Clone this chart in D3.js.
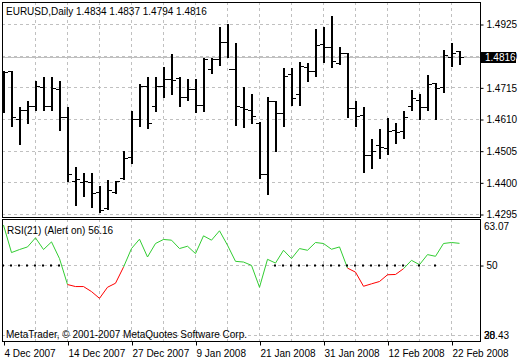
<!DOCTYPE html>
<html>
<head>
<meta charset="utf-8">
<script src="https://cdn.jsdelivr.net/npm/d3@7"></script>
<style>
  body { margin: 0; background: #fff; }
  svg text { font-family: "Liberation Sans", Arial, sans-serif; font-size: 10px; fill: #000; }
</style>
</head>
<body>
<script>
// trading days shown on the chart
const days = [
  "2007-12-04","2007-12-05","2007-12-06","2007-12-07","2007-12-10","2007-12-11","2007-12-12","2007-12-13",
  "2007-12-14","2007-12-17","2007-12-18","2007-12-19","2007-12-20","2007-12-21","2007-12-24","2007-12-26",
  "2007-12-27","2007-12-28","2007-12-31","2008-01-02","2008-01-03","2008-01-04","2008-01-07","2008-01-08",
  "2008-01-09","2008-01-10","2008-01-11","2008-01-14","2008-01-15","2008-01-16","2008-01-17","2008-01-18",
  "2008-01-21","2008-01-22","2008-01-23","2008-01-24","2008-01-25","2008-01-28","2008-01-29","2008-01-30",
  "2008-01-31","2008-02-01","2008-02-04","2008-02-05","2008-02-06","2008-02-07","2008-02-08","2008-02-11",
  "2008-02-12","2008-02-13","2008-02-14","2008-02-15","2008-02-18","2008-02-19","2008-02-20","2008-02-21",
  "2008-02-22","2008-02-25"
]
const opens = [
  1.4672,1.4769,1.4609,1.4639,1.4653,1.4716,1.4653,1.4709,1.4616,1.4403,
  1.4400,1.4400,1.4367,1.4314,1.4367,1.4413,1.4483,1.4609,1.4719,1.4653,
  1.4719,1.4742,1.4746,1.4682,1.4709,1.4656,1.4775,1.4809,1.4865,1.4775,
  1.4649,1.4639,1.4596,1.4427,1.4669,1.4629,1.4759,1.4692,1.4782,1.4769,
  1.4859,1.4849,1.4795,1.4829,1.4646,1.4623,1.4490,1.4523,1.4513,1.4573,
  1.4570,1.4653,1.4672,1.4649,1.4729,1.4716,1.4815,1.4834
]
const highs = [
  1.4769,1.4770,1.4649,1.4669,1.4736,1.4749,1.4749,1.4736,1.4649,1.4450,
  1.4430,1.4430,1.4387,1.4407,1.4403,1.4503,1.4636,1.4726,1.4749,1.4749,
  1.4782,1.4825,1.4749,1.4742,1.4742,1.4812,1.4812,1.4915,1.4925,1.4862,
  1.4716,1.4692,1.4599,1.4682,1.4670,1.4779,1.4779,1.4799,1.4795,1.4908,
  1.4915,1.4952,1.4849,1.4830,1.4669,1.4649,1.4543,1.4576,1.4613,1.4596,
  1.4636,1.4706,1.4692,1.4756,1.4730,1.4839,1.4862,1.4837
]
const lows = [
  1.4633,1.4586,1.4526,1.4596,1.4639,1.4639,1.4639,1.4573,1.4403,1.4324,
  1.4354,1.4317,1.4300,1.4310,1.4364,1.4410,1.4463,1.4586,1.4580,1.4636,
  1.4682,1.4692,1.4653,1.4672,1.4633,1.4636,1.4762,1.4789,1.4815,1.4590,
  1.4583,1.4596,1.4413,1.4360,1.4503,1.4586,1.4656,1.4656,1.4736,1.4752,
  1.4799,1.4782,1.4792,1.4616,1.4586,1.4433,1.4447,1.4480,1.4493,1.4530,
  1.4546,1.4639,1.4609,1.4639,1.4609,1.4699,1.4785,1.4794
]
const closes = [
  1.4766,1.4616,1.4639,1.4653,1.4719,1.4653,1.4712,1.4616,1.4427,1.4410,
  1.4403,1.4364,1.4307,1.4374,1.4403,1.4480,1.4609,1.4719,1.4596,1.4719,
  1.4742,1.4739,1.4682,1.4709,1.4656,1.4809,1.4809,1.4865,1.4775,1.4653,
  1.4643,1.4619,1.4427,1.4669,1.4629,1.4752,1.4679,1.4785,1.4769,1.4855,
  1.4849,1.4802,1.4829,1.4646,1.4619,1.4490,1.4503,1.4516,1.4570,1.4566,
  1.4616,1.4679,1.4649,1.4726,1.4712,1.4822,1.4829,1.4816
]
const rsi = [
  61.35,53.54,54.40,55.14,57.72,54.40,56.57,51.82,44.46,43.89,
  43.89,42.46,40.54,43.69,44.83,49.41,54.68,57.34,52.28,56.11,
  57.26,57.06,54.68,55.34,53.25,58.29,57.06,59.72,55.63,51.05,
  50.85,49.90,43.69,51.62,50.56,54.19,51.82,54.68,54.19,56.40,
  56.11,54.48,55.14,49.13,47.98,43.97,44.66,45.32,47.24,47.32,
  48.96,51.33,50.10,52.96,52.48,56.11,56.40,56.16
]
// bars where the indicator draws its red buffer
const rsiDown = [8,9,10,11,12,13,14,15,43,44,45,46,47,48,49,50]
// bars with an alert dot on the 50 level
const alertBars = [0,1,2,3,4,5,6,7,34,35,36,37,38,39,40,41,42,43,44,45,46,47,48,49,50,52,54]

const priceTicks = [1.4925,1.4820,1.4715,1.4610,1.4505,1.4400,1.4295]
const bid = 1.4816
const rsiLevels = [50, 30]
const rsiMin = 28.43, rsiMax = 63.07
const header = "EURUSD,Daily  1.4834 1.4837 1.4794 1.4816"

const W = 520, H = 360
const left = 2, right = 480
const mainTop = 2, mainBottom = 217
const subTop = 219, subBottom = 341

const parse = d3.timeParse("%Y-%m-%d")
const fmt = d3.timeFormat("%-d %b %Y")

const svg = d3.select('body').append('svg')
    .attr('width', W)
    .attr('height', H)
    .style('display', 'block');

svg.append('rect').attr('width', W).attr('height', H).attr('fill', '#fff');

const x = d3.scalePoint().domain(days).range([3.5, 459.5]);
const y = d3.scaleLinear().domain([1.4295, 1.4925]).range([214, 24]);
const yr = d3.scaleLinear().domain([rsiMin, rsiMax]).range([subBottom, subTop]);

const gridDays = days.filter((d, i) => i > 0 && i % 4 == 0);
const labelDays = days.filter((d, i) => i % 8 == 0);

// vertical grid in both windows
[[mainTop, mainBottom], [subTop, subBottom]].forEach(([t, b]) => {
    svg.append('g').selectAll('line')
        .data(gridDays)
        .enter().append('line')
        .attr('x1', d => Math.floor(x(d)) + 0.5)
        .attr('x2', d => Math.floor(x(d)) + 0.5)
        .attr('y1', t).attr('y2', b)
        .attr('stroke', '#c0c0c0')
        .attr('stroke-dasharray', '3,3');
});

// horizontal grid, main window
svg.append('g').selectAll('line')
    .data(priceTicks)
    .enter().append('line')
    .attr('x1', left).attr('x2', right)
    .attr('y1', d => Math.round(y(d)) + 0.5)
    .attr('y2', d => Math.round(y(d)) + 0.5)
    .attr('stroke', '#c0c0c0')
    .attr('stroke-dasharray', '3,3');

// bid line
svg.append('line')
    .attr('x1', left).attr('x2', right)
    .attr('y1', Math.round(y(bid)) + 0.5).attr('y2', Math.round(y(bid)) + 0.5)
    .attr('stroke', '#c0c0c0');

// levels, indicator window
svg.append('g').selectAll('line')
    .data(rsiLevels)
    .enter().append('line')
    .attr('x1', left).attr('x2', right)
    .attr('y1', d => Math.round(yr(d)) + 0.5)
    .attr('y2', d => Math.round(yr(d)) + 0.5)
    .attr('stroke', '#c0c0c0')
    .attr('stroke-dasharray', '3,3');

// OHLC bars
const bars = svg.append('g').attr('clip-path', 'url(#clipMain)');
svg.append('clipPath').attr('id', 'clipMain')
    .append('rect').attr('x', left).attr('y', mainTop).attr('width', right - left).attr('height', mainBottom - mainTop);

const ohlc = days.map((d, i) => ({d, o: opens[i], h: highs[i], l: lows[i], c: closes[i]}));
let g = bars.selectAll('g.bar').data(ohlc).enter().append('g').attr('class', 'bar');
g.append('rect')
    .attr('x', d => Math.floor(x(d.d)))
    .attr('y', d => Math.round(y(d.h)))
    .attr('width', 2)
    .attr('height', d => Math.max(1, Math.round(y(d.l)) - Math.round(y(d.h)) + 1))
    .attr('fill', '#000');
g.append('rect')
    .attr('x', d => Math.floor(x(d.d)) - 3)
    .attr('y', d => Math.round(y(d.o)))
    .attr('width', 3).attr('height', 1)
    .attr('fill', '#000');
g.append('rect')
    .attr('x', d => Math.floor(x(d.d)) + 2)
    .attr('y', d => Math.round(y(d.c)))
    .attr('width', 3).attr('height', 1)
    .attr('fill', '#000');

// RSI line, one segment per bar
const segs = d3.range(days.length - 1).map(i => ({
    a: days[i], b: days[i + 1], va: rsi[i], vb: rsi[i + 1],
    down: rsiDown.includes(i) && rsiDown.includes(i + 1)
}));
svg.append('g').selectAll('line')
    .data(segs)
    .enter().append('line')
    .attr('x1', d => x(d.a)).attr('x2', d => x(d.b))
    .attr('y1', d => yr(d.va)).attr('y2', d => yr(d.vb))
    .attr('stroke', d => d.down ? '#ff0000' : '#32cd32')
    .attr('stroke-width', 1);

// alert dots
svg.append('g').selectAll('rect')
    .data(alertBars)
    .enter().append('rect')
    .attr('x', i => Math.floor(x(days[i])) - 1)
    .attr('y', Math.round(yr(50)) - 0.5)
    .attr('width', 2).attr('height', 2)
    .attr('fill', '#000');

// frames
svg.append('rect')
    .attr('x', left + 0.5).attr('y', mainTop + 0.5)
    .attr('width', right - left).attr('height', mainBottom - mainTop)
    .attr('fill', 'none').attr('stroke', '#000');
svg.append('rect')
    .attr('x', left + 0.5).attr('y', subTop + 0.5)
    .attr('width', right - left).attr('height', subBottom - subTop)
    .attr('fill', 'none').attr('stroke', '#000');

// price axis
const yAxis = svg.append('g')
    .attr('transform', `translate(${right + 0.5},0.5)`)
    .call(d3.axisRight(y).tickValues(priceTicks).tickSize(3).tickPadding(3).tickFormat(d3.format('.4f')));
yAxis.select('.domain').remove();
yAxis.selectAll('text').style('font-size', '10px').attr('font-family', null);

// bid label
svg.append('rect')
    .attr('x', right + 1).attr('y', Math.round(y(bid)) - 5)
    .attr('width', 35).attr('height', 11)
    .attr('fill', '#000');
svg.append('text')
    .attr('x', right + 5).attr('y', Math.round(y(bid)) + 4)
    .style('fill', '#fff')
    .text(d3.format('.4f')(bid));

// rsi axis
const rAxis = svg.append('g')
    .attr('transform', `translate(${right + 0.5},0.5)`)
    .call(d3.axisRight(yr).tickValues([50]).tickSize(3).tickPadding(3).tickFormat(d3.format('d')));
rAxis.select('.domain').remove();
rAxis.selectAll('text').style('font-size', '10px').attr('font-family', null);
svg.append('text').attr('x', right + 4).attr('y', subTop + 11).text(rsiMax.toFixed(2));
svg.append('text').attr('x', right + 4).attr('y', subBottom - 2).text(rsiMin.toFixed(2));
svg.append('text').attr('x', right + 4).attr('y', Math.round(yr(30)) + 4).text('30');

// date axis
const xAxis = svg.append('g')
    .attr('transform', `translate(0.5,${subBottom + 0.5})`)
    .call(d3.axisBottom(x).tickValues(labelDays).tickSize(4).tickPadding(4).tickFormat(d => fmt(parse(d))));
xAxis.select('.domain').remove();
xAxis.selectAll('.tick line').attr('transform', d => `translate(${Math.floor(x(d)) + 0.5 - x(d)},0)`);
xAxis.selectAll('text')
    .attr('text-anchor', 'start')
    .attr('x', 0)
    .style('font-size', '10px')
    .attr('font-family', null);

// window texts
svg.append('text').attr('x', 6).attr('y', 15).text(header);
svg.append('text').attr('x', 7).attr('y', 234).text("RSI(21) (Alert on) " + rsi[rsi.length - 1].toFixed(2));
svg.append('text').attr('x', 6).attr('y', 338).text("MetaTrader, © 2001-2007 MetaQuotes Software Corp.");
</script>
</body>
</html>
